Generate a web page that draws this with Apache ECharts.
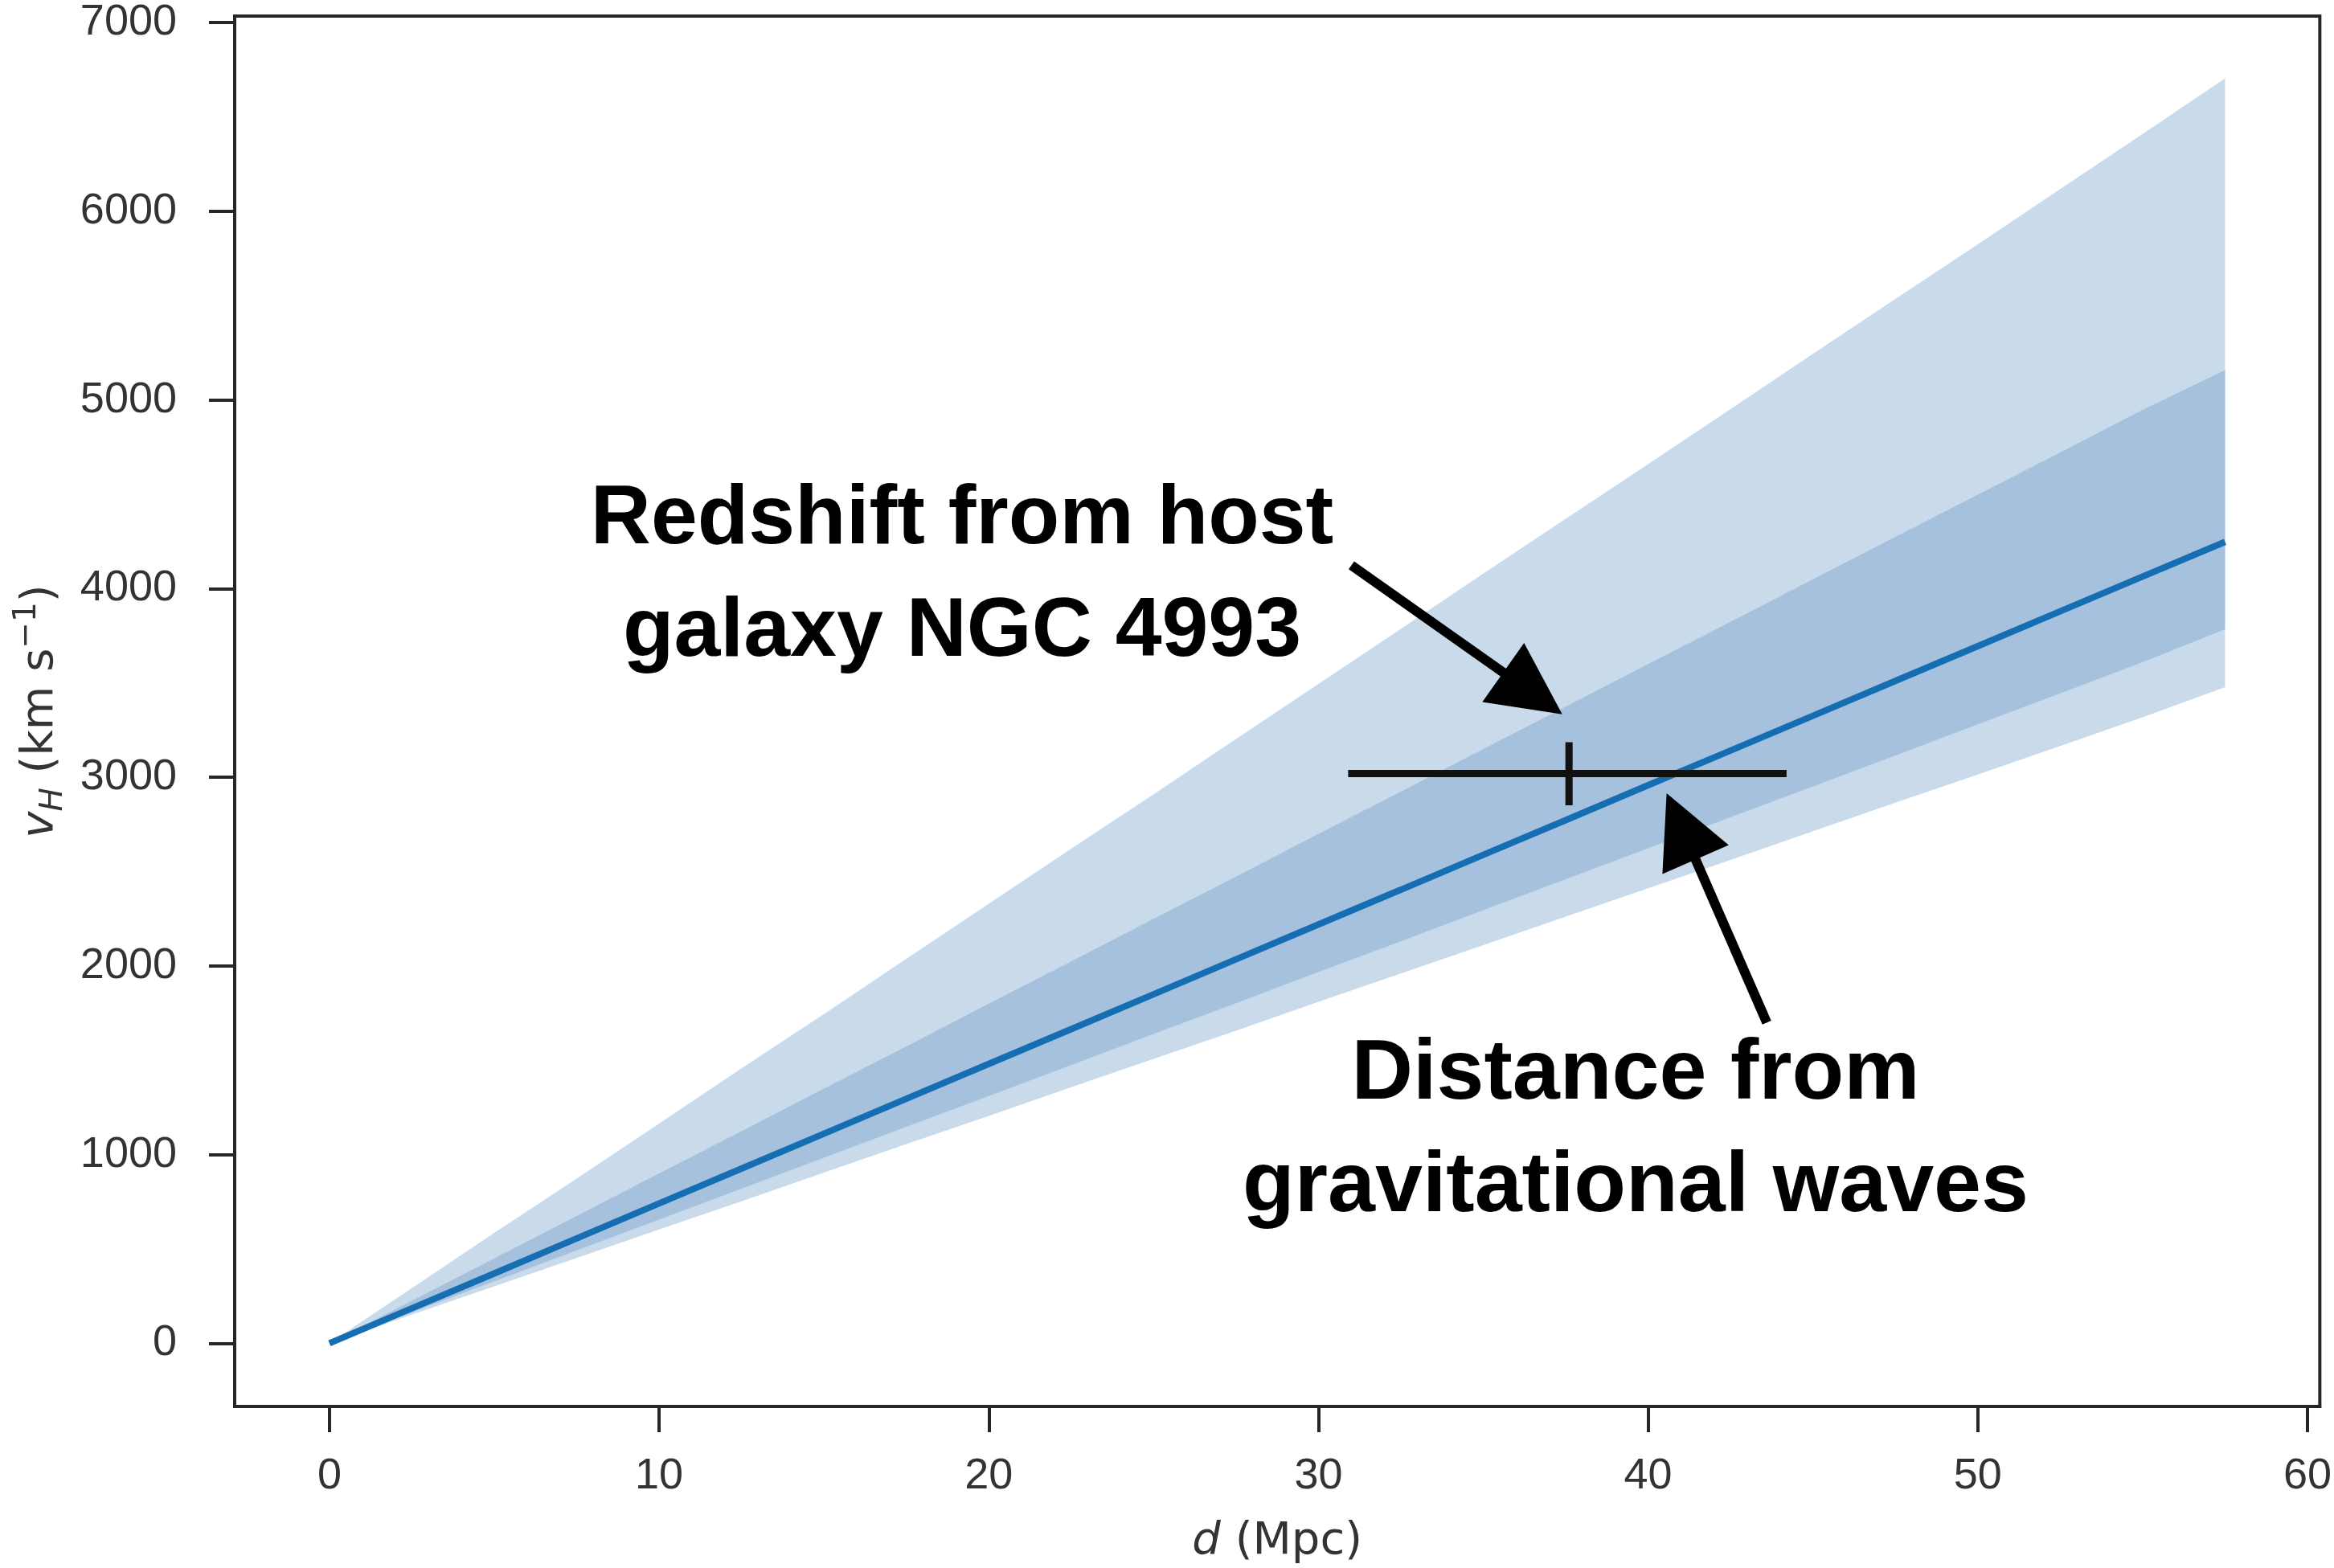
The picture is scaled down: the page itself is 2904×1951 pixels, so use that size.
<!DOCTYPE html>
<html>
<head>
<meta charset="utf-8">
<script src="https://cdn.jsdelivr.net/npm/echarts@6/dist/echarts.min.js"></script>
<style>
html,body{margin:0;padding:0;background:#fff;}
#chart{width:2904px;height:1951px;}
</style>
</head>
<body>
<div id="chart"></div>
<script>
// Distance grid (Mpc)
const dist    = [0, 2.5, 5, 7.5, 10, 12.5, 15, 17.5, 20, 22.5, 25, 27.5, 30, 32.5, 35, 37.5, 40, 42.5, 45, 47.5, 50, 52.5, 55, 57.5];
// Outer (light) band edges, km/s
const outerLo = [0, 152, 302, 452, 603, 752, 905, 1056, 1205, 1357, 1508, 1657, 1810, 1960, 2110, 2262, 2412, 2562, 2714, 2865, 3015, 3166, 3318, 3478];
const outerHi = [0, 292, 585, 873, 1165, 1457, 1745, 2038, 2330, 2622, 2910, 3203, 3495, 3787, 4080, 4370, 4660, 4952, 5245, 5535, 5825, 6118, 6410, 6705];
// Inner (darker) band edges, km/s
const innerLo = [0, 164, 328, 492, 655, 820, 983, 1147, 1311, 1475, 1640, 1803, 1968, 2131, 2296, 2460, 2624, 2789, 2952, 3116, 3281, 3445, 3610, 3784];
const innerHi = [0, 225, 450, 675, 900, 1124, 1350, 1573, 1800, 2024, 2250, 2474, 2700, 2924, 3150, 3375, 3600, 3824, 4050, 4274, 4498, 4722, 4948, 5158];
// Median relation
const median  = [0, 185, 370, 556, 741, 926, 1111, 1296, 1481, 1665, 1850, 2035, 2220, 2404, 2589, 2773, 2958, 3142, 3326, 3511, 3695, 3880, 4064, 4248];

// Host-galaxy point with error bars
const pointX = 37.6, pointY = 3020;
const errXRange = [30.9, 44.2];
const errYRange = [2852, 3186];

// Annotation arrows (data coords: tail, head)
const arrowRedshift = [[31.0, 4124], [36.5, 3445]];
const arrowDistance = [[43.6, 1700], [41.0, 2740]];

// Tick values
const xTicks = [0, 10, 20, 30, 40, 50, 60];
const yTicks = [0, 1000, 2000, 3000, 4000, 5000, 6000, 7000];

const LIGHT = '#c9dbeb';
const DARK = '#a6c1de';
const LINE = '#166eb2';
const AX = '#262626';
const TXT = '#333333';

const chart = echarts.init(document.getElementById('chart'), null, {renderer: 'canvas'});

function bandSeries(name, lo, hi, color, z) {
  return {
    name, type: 'custom', silent: true, z,
    data: dist.map((d, i) => [d, lo[i], hi[i]]),
    encode: {x: 0, y: [1, 2]},
    renderItem: function (params, api) {
      if (params.dataIndex !== 0) return null;
      const pts = [];
      for (let i = 0; i < dist.length; i++) pts.push(api.coord([dist[i], hi[i]]));
      for (let i = dist.length - 1; i >= 0; i--) pts.push(api.coord([dist[i], lo[i]]));
      return {type: 'polygon', shape: {points: pts}, style: {fill: color, stroke: null}};
    }
  };
}

const plain = (v) => String(v);

chart.setOption({
  animation: false,
  backgroundColor: '#ffffff',
  grid: {left: 292, right: 12, top: 20, bottom: 199, show: true, borderColor: AX, borderWidth: 4, containLabel: false},
  xAxis: {
    type: 'value', min: -2.875, max: 60.375,
    axisLine: {show: true, onZero: false, lineStyle: {color: AX, width: 4}},
    axisTick: {show: true, length: 32, inside: false, customValues: xTicks, lineStyle: {color: AX, width: 4}},
    axisLabel: {customValues: xTicks, formatter: plain, fontSize: 54, color: TXT, fontFamily: 'Liberation Sans', margin: 60},
    splitLine: {show: false},
    name: '{i|d} (Mpc)', nameLocation: 'middle', nameGap: 140,
    nameTextStyle: {fontFamily: 'DejaVu Sans', fontSize: 56, color: TXT,
      rich: {i: {fontFamily: 'DejaVu Sans', fontStyle: 'italic', fontSize: 56, color: TXT}}}
  },
  yAxis: {
    type: 'value', min: -335, max: 7035,
    axisLine: {show: true, onZero: false, lineStyle: {color: AX, width: 4}},
    axisTick: {show: true, length: 32, inside: false, customValues: yTicks, lineStyle: {color: AX, width: 4}},
    axisLabel: {customValues: yTicks, formatter: plain, fontSize: 54, color: TXT, fontFamily: 'Liberation Sans', margin: 72},
    splitLine: {show: false},
    name: '{v|v}{sub|H}{n| (km s}{sup|−1}{n|)}', nameLocation: 'middle', nameGap: 206,
    nameTextStyle: {fontFamily: 'DejaVu Sans', fontSize: 56, color: TXT,
      rich: {
        v: {fontFamily: 'DejaVu Sans', fontStyle: 'italic', fontSize: 56, lineHeight: 72, color: TXT},
        n: {fontFamily: 'DejaVu Sans', fontSize: 56, lineHeight: 72, color: TXT},
        sub: {fontFamily: 'DejaVu Sans', fontStyle: 'italic', fontSize: 39, lineHeight: 30, verticalAlign: 'bottom', color: TXT},
        sup: {fontFamily: 'DejaVu Sans', fontSize: 39, lineHeight: 40, verticalAlign: 'top', color: TXT}
      }}
  },
  series: [
    bandSeries('outer', outerLo, outerHi, LIGHT, 1),
    bandSeries('inner', innerLo, innerHi, DARK, 2),
    {
      name: 'median', type: 'line', data: dist.map((d, i) => [d, median[i]]), symbol: 'none', silent: true,
      lineStyle: {color: LINE, width: 8}, z: 3
    },
    {
      name: 'errX', type: 'line', data: [[errXRange[0], pointY], [errXRange[1], pointY]],
      symbol: 'none', silent: true, lineStyle: {color: '#111111', width: 9}, z: 4,
      markLine: {
        silent: true, animation: false,
        symbol: ['none', 'triangle'], symbolSize: 90,
        label: {show: false},
        lineStyle: {color: '#000000', width: 12, type: 'solid'},
        itemStyle: {color: '#000000'},
        data: [
          [{coord: arrowRedshift[0]}, {coord: arrowRedshift[1]}],
          [{coord: arrowDistance[0]}, {coord: arrowDistance[1]}]
        ]
      }
    },
    {
      name: 'errY', type: 'line', data: [[pointX, errYRange[0]], [pointX, errYRange[1]]],
      symbol: 'none', silent: true, lineStyle: {color: '#111111', width: 9}, z: 4
    }
  ],
  graphic: [
    {
      type: 'text', x: 1197, y: 717, z: 10,
      style: {
        text: 'Redshift from host\ngalaxy NGC 4993',
        font: 'bold 104px "Liberation Sans"', fill: '#000000',
        align: 'center', verticalAlign: 'middle', lineHeight: 140
      }
    },
    {
      type: 'text', x: 2035, y: 1408, z: 10,
      style: {
        text: 'Distance from\ngravitational waves',
        font: 'bold 106px "Liberation Sans"', fill: '#000000',
        align: 'center', verticalAlign: 'middle', lineHeight: 140
      }
    }
  ]
});
</script>
</body>
</html>
